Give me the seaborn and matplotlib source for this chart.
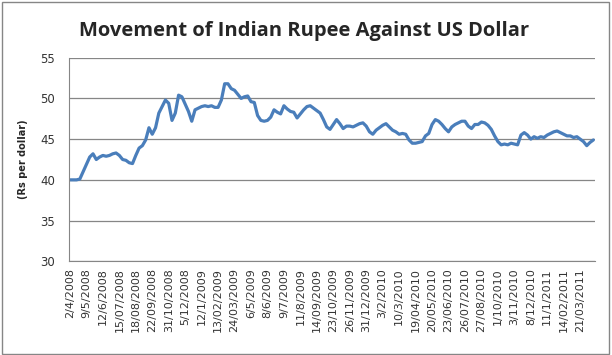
import numpy as np
import pandas as pd
import seaborn as sns
import matplotlib.pyplot as plt
from matplotlib.patches import Rectangle

# roughly weekly readings of Rs per US dollar, Apr 2008 - Mar 2011
rate = [
    40.0, 40.0, 40.0, 40.1, 41.0, 41.9, 42.8, 43.2, 42.5, 42.8,
    43.0, 42.9, 43.0, 43.2, 43.3, 43.0, 42.5, 42.4, 42.1, 42.0,
    43.0, 43.9, 44.2, 44.9, 46.4, 45.6, 46.4, 48.2, 49.0, 49.8,
    49.4, 47.3, 48.2, 50.4, 50.2, 49.3, 48.4, 47.2, 48.6, 48.8,
    49.0, 49.1, 49.0, 49.1, 48.9, 48.9, 49.8, 51.8, 51.8, 51.2,
    51.0, 50.5, 50.0, 50.2, 50.3, 49.6, 49.5, 47.9, 47.3, 47.2,
    47.3, 47.7, 48.6, 48.3, 48.1, 49.1, 48.7, 48.4, 48.3, 47.6,
    48.1, 48.6, 49.0, 49.1, 48.8, 48.5, 48.2, 47.4, 46.5, 46.2,
    46.8, 47.4, 46.9, 46.3, 46.6, 46.6, 46.5, 46.7, 46.9, 47.0,
    46.6, 45.9, 45.6, 46.1, 46.4, 46.7, 46.9, 46.5, 46.1, 45.9,
    45.6, 45.7, 45.6, 44.9, 44.5, 44.5, 44.6, 44.7, 45.4, 45.7,
    46.8, 47.4, 47.2, 46.8, 46.3, 45.9, 46.5, 46.8, 47.0, 47.2,
    47.2, 46.6, 46.3, 46.8, 46.8, 47.1, 47.0, 46.7, 46.2, 45.4,
    44.7, 44.3, 44.4, 44.3, 44.5, 44.4, 44.3, 45.5, 45.8, 45.5,
    45.0, 45.3, 45.1, 45.3, 45.2, 45.5, 45.7, 45.9, 46.0, 45.8,
    45.6, 45.4, 45.4, 45.2, 45.3, 45.0, 44.7, 44.2, 44.6, 44.9,
]

date_labels = [
    "2/4/2008", "9/5/2008", "12/6/2008", "15/07/2008", "18/08/2008",
    "22/09/2008", "31/10/2008", "5/12/2008", "12/1/2009", "13/02/2009",
    "24/03/2009", "6/5/2009", "8/6/2009", "9/7/2009", "11/8/2009",
    "14/09/2009", "23/10/2009", "26/11/2009", "31/12/2009", "3/2/2010",
    "10/3/2010", "19/04/2010", "20/05/2010", "23/06/2010", "26/07/2010",
    "27/08/2010", "1/10/2010", "3/11/2010", "8/12/2010", "11/1/2011",
    "14/02/2011", "21/03/2011",
]

df = pd.DataFrame({"idx": np.arange(len(rate)), "rate": rate})

sns.set_style("white")
plt.rcParams["font.family"] = ["DejaVu Sans"]

fig = plt.figure(figsize=(6.12, 3.55), dpi=100)
ax = fig.add_axes([0.1127, 0.2639, 0.8595, 0.5736])

sns.lineplot(data=df, x="idx", y="rate", ax=ax, color="#4A7EBB", linewidth=2.3)

ax.set_xlim(-0.3, 159.5)
ax.set_ylim(30, 55)
ax.set_yticks([30, 35, 40, 45, 50, 55])
ax.set_xticks(np.arange(len(date_labels)) * 5)
ax.set_xticklabels(date_labels, rotation=90, fontsize=8, color="#333333")
ax.tick_params(axis="y", labelsize=8.5, colors="#333333", length=0, pad=10)
ax.tick_params(axis="x", length=0, pad=5)
ax.grid(axis="y", color="#868686", linewidth=0.9)
ax.set_axisbelow(True)
for s in ["top", "right"]:
    ax.spines[s].set_visible(False)
ax.spines["left"].set_color("#868686")
ax.spines["bottom"].set_color("#868686")
ax.set_xlabel("")
ax.set_ylabel("(Rs per dollar)", fontsize=7, fontweight="bold", labelpad=9)

fig.text(0.497, 0.913, "Movement of Indian Rupee Against US Dollar",
         ha="center", va="center", fontsize=14.5, fontweight="bold",
         family=["Open Sans", "DejaVu Sans"])

fig.patches.append(Rectangle((0.003, 0.004), 0.992, 0.991, transform=fig.transFigure,
                             fill=False, edgecolor="#868686", linewidth=1))

fig.savefig("out.png", dpi=100)
